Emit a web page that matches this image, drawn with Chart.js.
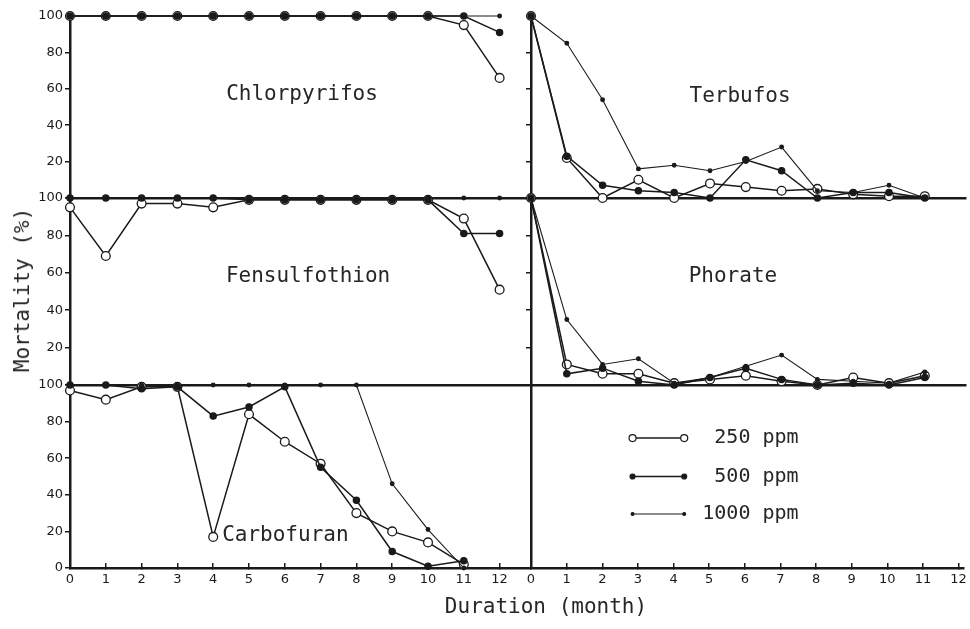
<!DOCTYPE html>
<html>
<head>
<meta charset="utf-8">
<title>Mortality by duration</title>
<script src="https://cdn.jsdelivr.net/npm/chart.js@4.4.1/dist/chart.umd.min.js"></script>
<style>
  body { margin: 0; background: #fff; }
  #wrap { position: relative; width: 970px; height: 629px; overflow: hidden; background: #fff; }
  #wrap canvas { position: absolute; }
  .axis-title { position: absolute; font-family: "DejaVu Sans Mono", monospace; font-size: 21px; color: #262626; white-space: nowrap; }
  #ytitle { left: 22px; top: 290px; transform: translate(-50%, -50%) rotate(-90deg); }
  #xtitle { left: 546px; top: 606px; transform: translate(-50%, -50%); }
</style>
</head>
<body>
<div id="wrap">
  <canvas id="chlorpyrifos"></canvas>
  <canvas id="fensulfothion"></canvas>
  <canvas id="carbofuran"></canvas>
  <canvas id="terbufos"></canvas>
  <canvas id="phorate"></canvas>
  <canvas id="keyPanel"></canvas>
  <div class="axis-title" id="ytitle">Mortality (%)</div>
  <div class="axis-title" id="xtitle">Duration (month)</div>
</div>
<script>
/* Mortality (%) vs. duration (month) for five insecticides at three rates */
const months = [0, 1, 2, 3, 4, 5, 6, 7, 8, 9, 10, 11, 12];
const yTicks = [0, 20, 40, 60, 80, 100];
const doses = ['250 ppm', '500 ppm', '1000 ppm'];

const chlorpyrifos250  = [100, 100, 100, 100, 100, 100, 100, 100, 100, 100, 100, 95, 66];
const chlorpyrifos500  = [100, 100, 100, 100, 100, 100, 100, 100, 100, 100, 100, 100, 91];
const chlorpyrifos1000 = [100, 100, 100, 100, 100, 100, 100, 100, 100, 100, 100, 100, 100];

const fensulfothion250  = [95, 69, 97, 97, 95, 99, 99, 99, 99, 99, 99, 89, 51];
const fensulfothion500  = [100, 100, 100, 100, 100, 99, 99, 99, 99, 99, 99, 81, 81];
const fensulfothion1000 = [100, 100, 100, 100, 100, 100, 100, 100, 100, 100, 100, 100, 100];

const carbofuran250  = [97, 92, 99, 99, 17, 84, 69, 57, 30, 20, 14, 2];
const carbofuran500  = [100, 100, 98, 99, 83, 88, 99, 55, 37, 9, 1, 4];
const carbofuran1000 = [100, 100, 100, 100, 100, 100, 100, 100, 100, 46, 21, 0];

const terbufos250  = [100, 22, 0, 10, 0, 8, 6, 4, 5, 2, 1, 1];
const terbufos500  = [100, 23, 7, 4, 3, 0, 21, 15, 0, 3, 3, 0];
const terbufos1000 = [100, 85, 54, 16, 18, 15, 20, 28, 4, 3, 7, 0];

const phorate250  = [100, 11, 6, 6, 1, 3, 5, 2, 0, 4, 1, 5];
const phorate500  = [100, 6, 9, 2, 0, 4, 9, 3, 0, 1, 0, 4];
const phorate1000 = [100, 35, 11, 14, 1, 4, 10, 16, 3, 2, 1, 7];

const INK = '#1a1a1a';
const MONO = '"DejaVu Sans Mono", monospace';
const PX = 35.8;              // pixels per month
const LEFT_X0 = 70, RIGHT_X0 = 531, RIGHT_END = 966;

// marker look per dose: open circle, filled dot, small dot
const doseStyle = [
  { radius: 4.4, fill: '#fff', line: 1.5, order: 2 },
  { radius: 3.1, fill: INK,    line: 1.5, order: 1 },
  { radius: 1.8, fill: INK,    line: 1.1, order: 0 },
];

function toDatasets(seriesList) {
  return seriesList.map((vals, i) => ({
    label: doses[i],
    data: vals.map((v, k) => ({ x: months[k], y: v })),
    borderColor: INK,
    borderWidth: doseStyle[i].line,
    pointRadius: doseStyle[i].radius,
    pointBackgroundColor: doseStyle[i].fill,
    pointBorderColor: INK,
    pointBorderWidth: 1.3,
    tension: 0,
    fill: false,
    clip: false,
    order: doseStyle[i].order
  }));
}

const panelLabel = {
  id: 'panelLabel',
  afterDraw(chart, args, opts) {
    if (!opts.text) return;
    const { ctx, scales: { x, y } } = chart;
    ctx.save();
    ctx.font = '21px ' + MONO;
    ctx.fillStyle = '#262626';
    ctx.textAlign = opts.align || 'center';
    ctx.textBaseline = 'middle';
    ctx.fillText(opts.text, x.getPixelForValue(opts.x), y.getPixelForValue(opts.y));
    ctx.restore();
  }
};

const doseKey = {
  id: 'doseKey',
  afterDraw(chart, args, opts) {
    if (!opts.rows) return;
    const { ctx, scales: { x, y } } = chart;
    const x1 = x.getPixelForValue(opts.lineFrom), x2 = x.getPixelForValue(opts.lineTo);
    chart.data.datasets.forEach((ds, i) => {
      const py = y.getPixelForValue(opts.rows[i]);
      ctx.save();
      ctx.strokeStyle = INK;
      ctx.lineWidth = ds.borderWidth;
      ctx.beginPath(); ctx.moveTo(x1, py); ctx.lineTo(x2, py); ctx.stroke();
      [x1, x2].forEach(px => {
        ctx.beginPath();
        ctx.arc(px, py, ds.pointRadius * 0.8, 0, Math.PI * 2);
        ctx.fillStyle = ds.pointBackgroundColor; ctx.fill();
        ctx.lineWidth = 1.2; ctx.strokeStyle = INK; ctx.stroke();
      });
      ctx.font = '20px ' + MONO;
      ctx.fillStyle = '#262626';
      ctx.textAlign = 'right';
      ctx.textBaseline = 'middle';
      ctx.fillText(ds.label, x.getPixelForValue(opts.textRight), py);
      ctx.restore();
    });
  }
};

function makePanel(id, area, datasets, o) {
  const yW = o.left ? 70 : 20, padTop = 12, padRight = 10;
  const bottom = o.xLabels ? 32 : 10;
  const cv = document.getElementById(id);
  cv.width = yW + area.w + padRight;
  cv.height = padTop + area.h + bottom;
  cv.style.left = (area.x - yW) + 'px';
  cv.style.top = (area.y - padTop) + 'px';
  const xMax = area.w / PX;

  return new Chart(cv, {
    type: 'line',
    data: { datasets },
    options: {
      responsive: false,
      animation: false,
      devicePixelRatio: 1,
      layout: { padding: { top: padTop, right: padRight, bottom: o.xLabels ? 0 : bottom, left: 0 } },
      plugins: {
        legend: { display: false },
        tooltip: { enabled: false },
        panelLabel: o.label || {},
        doseKey: o.key || {}
      },
      scales: {
        x: {
          type: 'linear', min: 0, max: xMax,
          afterBuildTicks: s => { s.ticks = months.map(v => ({ value: v })); },
          afterFit: s => { s.height = o.xLabels ? 32 : 0; },
          grid: { drawOnChartArea: false, drawTicks: !!o.xLabels, tickLength: -5, color: INK, lineWidth: 1.5 },
          border: { color: INK, width: 2.5 },
          ticks: {
            display: !!o.xLabels, padding: 9, autoSkip: false, maxRotation: 0,
            color: INK, font: { family: '"DejaVu Sans", sans-serif', size: 13 }
          }
        },
        y: {
          min: 0, max: 100,
          afterBuildTicks: s => { s.ticks = yTicks.map(v => ({ value: v })); },
          afterFit: s => { s.width = yW; },
          grid: { drawOnChartArea: false, drawTicks: o.yTickMarks !== false, tickLength: 5, color: INK, lineWidth: 1.5 },
          border: { color: INK, width: 2.5 },
          ticks: {
            padding: 2, autoSkip: false, color: INK,
            font: { family: '"DejaVu Sans", sans-serif', size: 13 },
            callback: v => (o.left && (v > 0 || o.xLabels)) ? v : ''
          }
        }
      }
    },
    plugins: [panelLabel, doseKey]
  });
}

const leftW = RIGHT_X0 - LEFT_X0, rightW = RIGHT_END - RIGHT_X0;

makePanel('chlorpyrifos', { x: LEFT_X0, y: 16, w: leftW, h: 182 },
  toDatasets([chlorpyrifos250, chlorpyrifos500, chlorpyrifos1000]),
  { left: true, label: { text: 'Chlorpyrifos', x: 6.48, y: 57 } });

makePanel('fensulfothion', { x: LEFT_X0, y: 198, w: leftW, h: 187 },
  toDatasets([fensulfothion250, fensulfothion500, fensulfothion1000]),
  { left: true, label: { text: 'Fensulfothion', x: 6.65, y: 58 } });

makePanel('carbofuran', { x: LEFT_X0, y: 385, w: leftW, h: 183 },
  toDatasets([carbofuran250, carbofuran500, carbofuran1000]),
  { left: true, xLabels: true, label: { text: 'Carbofuran', x: 4.25, y: 18, align: 'left' } });

makePanel('terbufos', { x: RIGHT_X0, y: 16, w: rightW, h: 182 },
  toDatasets([terbufos250, terbufos500, terbufos1000]),
  { label: { text: 'Terbufos', x: 5.84, y: 56 } });

makePanel('phorate', { x: RIGHT_X0, y: 198, w: rightW, h: 187 },
  toDatasets([phorate250, phorate500, phorate1000]),
  { label: { text: 'Phorate', x: 5.64, y: 58 } });

makePanel('keyPanel', { x: RIGHT_X0, y: 385, w: rightW, h: 183 },
  toDatasets([[], [], []]),
  { xLabels: true, yTickMarks: false, key: { rows: [71, 50, 29.5], lineFrom: 2.85, lineTo: 4.3, textRight: 7.51 } });
</script>
</body>
</html>
